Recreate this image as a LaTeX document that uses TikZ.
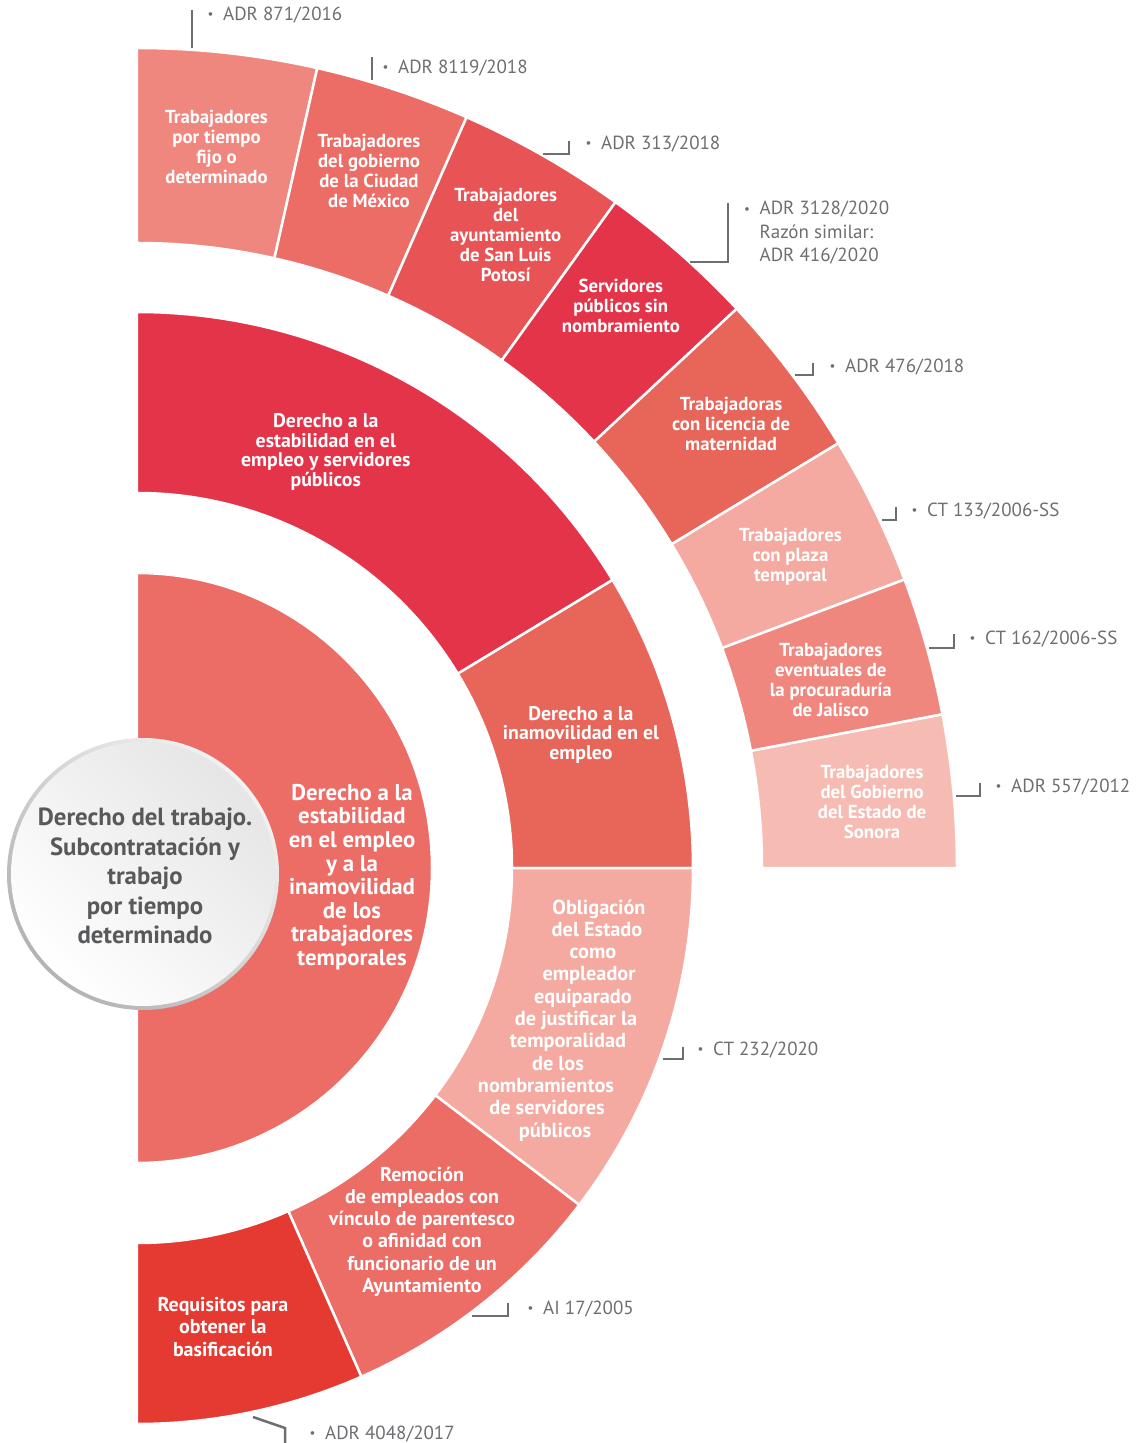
\documentclass[tikz,border=0pt]{standalone}
\usepackage{fontspec}
\setmainfont{PT Sans}
\usepackage{tikz}
\usetikzlibrary{calc,positioning}

\definecolor{rosa}{HTML}{F0877F}
\definecolor{salmon}{HTML}{EC6C66}
\definecolor{coral}{HTML}{E8655A}
\definecolor{rojo}{HTML}{E85456}
\definecolor{carmin}{HTML}{E4344A}
\definecolor{palo}{HTML}{F4AAA0}
\definecolor{pastel}{HTML}{F6BCB4}
\definecolor{bermellon}{HTML}{E53A32}
\definecolor{grisref}{HTML}{6D6E71}
\definecolor{gristexto}{HTML}{58595B}

\tikzset{
  seg/.style={draw=white,line width=2.5pt},
  casetext/.style={text=white,font=\bfseries\fontsize{18.8}{20}\selectfont,align=center,inner sep=0pt},
  topictext/.style={text=white,font=\bfseries\fontsize{19.8}{19.6}\selectfont,align=center,inner sep=0pt},
  midtext/.style={text=white,font=\bfseries\fontsize{20}{22.2}\selectfont,align=center,inner sep=0pt},
  oblline/.style={midtext,font=\bfseries\fontsize{20.3}{22.2}\selectfont,text height=13.5pt,text depth=4pt},
  reftext/.style={text=grisref,font=\fontsize{19}{23.5}\selectfont,anchor=west,inner sep=0pt,align=left},
  tick/.style={draw=grisref,line width=2.5pt},
}

\newcommand{\refdot}{\makebox[15.5pt][l]{\raisebox{1.5pt}{\fontsize{13}{13}\selectfont •}}}

\begin{document}
\begin{tikzpicture}[x=1pt,y=1pt]
    \useasboundingbox (-137,-575) rectangle (1008,868);

    % outer ring: cases
    \foreach \a/\b/\c in {90/77.3/rosa, 77.3/66.3/salmon, 66.3/54.3/rojo, 54.3/43/carmin,
                          43/31.2/coral, 31.2/20.6/palo, 20.6/10.8/rosa, 10.8/0/pastel}
    {
        \filldraw[seg,fill=\c] (\a:625) arc[start angle=\a,end angle=\b,radius=625]
            -- (\b:820) arc[start angle=\b,end angle=\a,radius=820] -- cycle;
    };

    % middle ring: topics
    \foreach \a/\b/\c in {90/31.2/carmin, 31.2/0/coral, 0/-37.3/palo, -37.3/-66.2/salmon, -66.2/-90/bermellon}
    {
        \filldraw[seg,fill=\c] (\a:375) arc[start angle=\a,end angle=\b,radius=375]
            -- (\b:556) arc[start angle=\b,end angle=\a,radius=556] -- cycle;
    };

    % inner half disc
    \filldraw[seg,fill=salmon] (0,295) arc[start angle=90,end angle=-90,radius=295] -- cycle;

    % hub
    \coordinate (hub) at (6,-6);
    \shade[top color=black!5,bottom color=black!30,shading angle=-45] (hub) circle (136);
    \shade[top color=black!10,bottom color=white,shading angle=-45] (hub) circle (132);
    \node[text=gristexto,font=\bfseries\fontsize{24.8}{29.5}\selectfont,align=center,inner sep=0pt] (tema) at (8,-8)
        {Derecho del trabajo.\\Subcontratación y\\trabajo\\por tiempo\\determinado};

    \node[text=white,font=\bfseries\fontsize{22.8}{23.6}\selectfont,align=center,inner sep=0pt] (derecho) at (215,-9)
        {Derecho a la\\estabilidad\\en el empleo\\y a la\\inamovilidad\\de los\\trabajadores\\temporales};

    % topic texts
    \node[topictext] (estabilidad) at (65.6:457) {Derecho a la\\estabilidad en el\\empleo y servidores\\públicos};
    \node[topictext] (inamovilidad) at (16.7:463.5) {Derecho a la\\inamovilidad en el\\empleo};
    \foreach \i/\x/\y/\t in {1/462/-41.3/Obligación, 2/460/-63.6/del Estado, 3/456/-85.9/como,
                             4/452/-108.2/empleador, 5/446/-130.5/equiparado, 6/439/-152.8/de justificar la,
                             7/431/-175.1/temporalidad, 8/421/-197.4/de los, 9/409/-219.7/nombramientos,
                             10/410/-242/de servidores, 11/418/-264.3/públicos}
    {
        \node[oblline] (obl\i) at (\x,\y) {\t};
    };
    \node[midtext] (remocion) at (-51.9:462) {Remoción\\de empleados con\\vínculo de parentesco\\o afinidad con\\funcionario de un\\Ayuntamiento};
    \node[midtext] (requisitos) at (-79.4:467) {Requisitos para\\obtener la\\basificación};

    % case texts
    \foreach \ang/\rad/\nm/\t in {83.7/725/fijo/{Trabajadores\\por tiempo\\fijo o\\determinado},
                                  71.6/735/cdmx/{Trabajadores\\del gobierno\\de la Ciudad\\de México},
                                  59.8/733/slp/{Trabajadores\\del\\ayuntamiento\\de San Luis\\Potosí},
                                  49.3/742/sinnom/{Servidores\\públicos sin\\nombramiento},
                                  36.8/742/licencia/{Trabajadoras\\con licencia de\\maternidad},
                                  25.5/724/plaza/{Trabajadores\\con plaza\\temporal},
                                  15.2/719/jalisco/{Trabajadores\\eventuales de\\la procuraduría\\de Jalisco},
                                  5.1/738/sonora/{Trabajadores\\del Gobierno\\del Estado de\\Sonora}}
    {
        \node[casetext] (\nm) at (\ang:\rad) {\t};
    };

    % reference ticks
    \coordinate (ta1) at (55,858);
    \coordinate (ta2) at (55,820);
    \draw[tick] (ta1) -- (ta2);
    \coordinate (tb1) at (235,811);
    \coordinate (tb2) at (235,788);
    \draw[tick] (tb1) -- (tb2);
    \coordinate (td1) at (553,606);
    \coordinate (td2) at (591,606);
    \coordinate (td3) at (591,665);
    \draw[tick] (td1) -- (td2) -- (td3);
    \foreach \n/\xa/\xb/\yb/\yt in {c/406/432/714/727, e/658/676/493/505, f/745/759/348/361,
                                   g/792/817/220/234, h/819/843/72/85, i/526/546/-191/-179, j/335/371/-448/-435}
    {
        \coordinate (t\n1) at (\xa,\yb);
        \coordinate (t\n2) at (\xb,\yb);
        \coordinate (t\n3) at (\xb,\yt);
        \draw[tick] (t\n1) -- (t\n2) -- (t\n3);
    };
    \coordinate (tk1) at (116,-549);
    \coordinate (tk2) at (148,-560);
    \coordinate (tk3) at (148,-578);
    \draw[tick] (tk1) -- (tk2) -- (tk3);

    % references
    \node[reftext] (refa) at (70.5,853) {\refdot ADR 871/2016};
    \node[reftext] (refb) at (245.5,800) {\refdot ADR 8119/2018};
    \node[reftext] (refc) at (448.5,724) {\refdot ADR 313/2018};
    \node[reftext,anchor=north west] (refd) at (607,667) {\refdot ADR 3128/2020\\\hspace*{15.5pt}Razón similar:\\\hspace*{15.5pt}ADR 416/2020};
    \node[reftext] (refe) at (692.5,501) {\refdot ADR 476/2018};
    \node[reftext] (reff) at (774.5,357) {\refdot CT 133/2006-SS};
    \node[reftext] (refg) at (832.5,229) {\refdot CT 162/2006-SS};
    \node[reftext] (refh) at (858.5,81) {\refdot ADR 557/2012};
    \node[reftext] (refi) at (560.5,-182) {\refdot CT 232/2020};
    \node[reftext] (refj) at (390.5,-441) {\refdot AI 17/2005};
    \node[reftext] (refk) at (172.5,-566) {\refdot ADR 4048/2017};
\end{tikzpicture}
\end{document}
